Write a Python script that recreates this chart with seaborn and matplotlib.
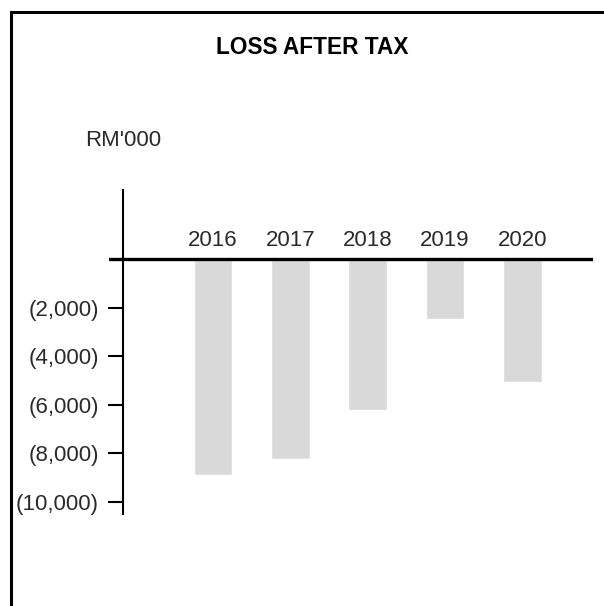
import matplotlib
matplotlib.use("Agg")
import matplotlib.pyplot as plt
import matplotlib.patches as mpatches
import seaborn as sns
import pandas as pd

# ── Data ──────────────────────────────────────────────────────────────────────
years = ["2016", "2017", "2018", "2019", "2020"]
loss_after_tax = [-8900, -8250, -6200, -2450, -5050]   # RM'000
tick_values = [-2000, -4000, -6000, -8000, -10000]
tick_labels = ["(2,000)", "(4,000)", "(6,000)", "(8,000)", "(10,000)"]

df = pd.DataFrame({"year": years, "loss": loss_after_tax})

sns.set_style("white")
plt.rcParams["font.family"] = ["Liberation Sans", "DejaVu Sans"]

W, H = 604, 606
TXT = "#2a2a2a"
fig = plt.figure(figsize=(W / 100, H / 100), dpi=100)
fig.patch.set_facecolor("white")

# frame around the chart (cropped on the right and bottom in the original)
frame = mpatches.Rectangle((11 / W, -0.2), 1.2, 1.2 - 12 / H,
                           transform=fig.transFigure, fill=False,
                           edgecolor="black", linewidth=2.2, clip_on=False)
fig.add_artist(frame)

ax = fig.add_axes([109 / W, (H - 514) / H, 484 / W, 324 / H])
sns.barplot(data=df, x="year", y="loss", color="#d9d9d9", width=0.5,
            saturation=1, ax=ax, zorder=1)

ax.set_xlim(-1.345, 4.913)
ax.set_ylim(-10494, 2840)

# zero line and year labels above it
ax.axhline(0, color="black", linewidth=2.4, zorder=3)
for i, yr in enumerate(years):
    ax.annotate(yr, xy=(i, 0), xytext=(0, 13), textcoords="offset points",
                ha="center", va="center", fontsize=16, color=TXT)

ax.set_xticks([])
ax.set_yticks(tick_values)
ax.set_yticklabels(tick_labels)
ax.tick_params(axis="y", direction="out", length=10.8, width=1.5,
               pad=6.5, color="black", left=True, labelsize=16,
               labelcolor=TXT)
ax.set_xlabel("")
ax.set_ylabel("")

for side in ["top", "right", "bottom"]:
    ax.spines[side].set_visible(False)
ax.spines["left"].set_position(("axes", 14 / 484))
ax.spines["left"].set_linewidth(1.5)
ax.spines["left"].set_color("black")
ax.set_facecolor("none")

fig.text(312 / W, 1 - 48 / H, "LOSS AFTER TAX", ha="center", va="center",
         fontsize=16.3, fontweight="bold", color="black")
fig.text(85 / W, 1 - 140 / H, "RM'000", ha="left", va="center",
         fontsize=16, color=TXT)

plt.savefig("out.png", dpi=100)
plt.close()
